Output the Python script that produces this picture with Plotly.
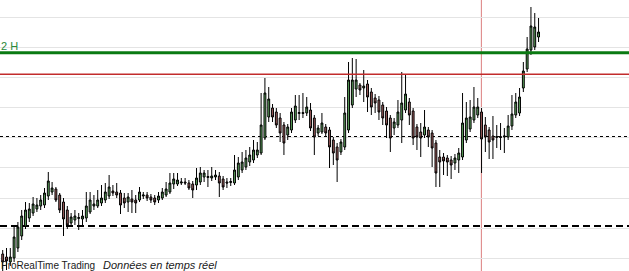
import plotly.graph_objects as go

open_ = [4073, 4071.5, 4069, 4071, 4076, 4082, 4087, 4091, 4093.5, 4095.5,
         4097, 4097.5, 4102, 4104, 4105.5, 4102.5, 4099, 4095, 4088.5, 4090,
         4090.75, 4090.5, 4091, 4094, 4097, 4097, 4098.5, 4100, 4102, 4104.5,
         4104, 4103.5, 4101, 4099, 4100.5, 4100, 4100, 4102, 4102.5, 4101.5,
         4101, 4100, 4101, 4102.5, 4104, 4108, 4108, 4108.5, 4109, 4108.5,
         4108, 4107.5, 4109, 4111.5, 4111.25, 4111, 4111.5, 4112, 4110.5, 4109,
         4108.75, 4108.5, 4111.5, 4115, 4116.5, 4119, 4120, 4122.5, 4123.5, 4131,
         4141.5, 4146, 4144, 4141, 4137.5, 4132.5, 4135, 4140, 4143.25, 4143.75,
         4143.5, 4145, 4141, 4133.5, 4134, 4136.5, 4135, 4130, 4126.5, 4124,
         4126.5, 4135, 4147.5, 4155.5, 4157.5, 4156, 4158, 4154, 4151, 4150,
         4147.5, 4144.5, 4141, 4136, 4137.5, 4140, 4145, 4149, 4144.5, 4136.5,
         4134, 4132.5, 4135, 4133.5, 4128.5, 4121.5, 4121.5, 4121, 4120, 4118.5,
         4120, 4121.5, 4130, 4135.5, 4140, 4142.5, 4144, 4137.5, 4135, 4132,
         4131.25, 4131.75, 4131.5, 4131.5, 4137, 4142.5, 4143.5, 4156, 4165.5, 4175,
         4176.5, 4181.5]
close = [4069, 4069.5, 4071.5, 4081.5, 4086.5, 4092, 4095, 4095.5, 4098, 4097.5,
         4100, 4103.5, 4109.5, 4106, 4100, 4095, 4090.5, 4087.5, 4091.5, 4092,
         4091.25, 4092, 4097, 4100, 4098, 4100, 4101, 4104, 4106.5, 4103.5,
         4102.5, 4097.5, 4098.5, 4101.5, 4099, 4098.5, 4104, 4102.5, 4101, 4100,
         4099, 4102, 4104, 4105.5, 4108.5, 4110.5, 4110, 4109, 4108.5, 4106,
         4105, 4111, 4113.5, 4113.5, 4111.75, 4112, 4112.5, 4108.5, 4106.5, 4108.5,
         4109.25, 4115, 4118.5, 4119, 4121, 4122.5, 4125, 4125, 4137.5, 4153.5,
         4150.5, 4141.5, 4137.5, 4133.5, 4128.5, 4136.5, 4144, 4147, 4143.75, 4143.25,
         4146.5, 4136, 4131.5, 4136, 4138.5, 4133.5, 4126.5, 4123.5, 4120, 4129,
         4143.5, 4160, 4160, 4160, 4155, 4157, 4151.5, 4146.5, 4148.5, 4144,
         4141, 4137.5, 4131, 4139, 4144, 4148.5, 4153, 4142.5, 4131, 4131.5,
         4131, 4136.5, 4131.5, 4126, 4113.5, 4119, 4119.5, 4119, 4117.5, 4121,
         4123.5, 4138.5, 4141, 4141.5, 4146.5, 4146.5, 4130.5, 4131.5, 4129, 4130,
         4131.75, 4131.25, 4132, 4137, 4143, 4149, 4151.5, 4164.5, 4175.5, 4187,
         4186.5, 4184]
high = [4075, 4076, 4076, 4086.5, 4089, 4095, 4099, 4098.5, 4101.5, 4101,
        4102.5, 4106, 4114, 4109, 4106.5, 4103.5, 4101, 4097, 4093.5, 4095,
        4093.5, 4095, 4104, 4104, 4102.5, 4105, 4107.5, 4108.5, 4112.5, 4107.5,
        4108.5, 4105, 4103.5, 4103.5, 4105, 4102.5, 4106.5, 4104, 4104, 4103,
        4102.5, 4104, 4106, 4109, 4113.5, 4113.5, 4113.5, 4111, 4111, 4110,
        4109.5, 4116, 4116.5, 4115, 4115, 4116.5, 4115, 4114, 4112, 4111,
        4111, 4122.5, 4121.5, 4124, 4125, 4126.5, 4130, 4129, 4153.5, 4161,
        4156.5, 4148, 4146, 4143.5, 4139, 4138, 4146, 4152.5, 4152.5, 4153.5,
        4151.5, 4148.5, 4142.5, 4137.5, 4143.5, 4138, 4136.5, 4131.5, 4128.5, 4130.5,
        4151.5, 4169, 4171, 4170.5, 4158.5, 4165, 4160, 4156, 4153, 4152,
        4149, 4146.5, 4142.5, 4141, 4150, 4164, 4162.5, 4151, 4146, 4138,
        4138.5, 4145, 4136.5, 4135, 4130, 4125, 4123.5, 4122.5, 4122, 4123,
        4126, 4153.5, 4149, 4150, 4156.5, 4151, 4146, 4141.5, 4136.5, 4142,
        4137.5, 4138.5, 4136, 4142.5, 4152.5, 4153.5, 4156, 4169, 4181.5, 4196.5,
        4193.5, 4191]
low = [4064, 4065, 4067, 4069, 4074, 4080, 4085.5, 4089, 4092, 4094,
       4095, 4096, 4100, 4102.5, 4099, 4093.5, 4082, 4085.5, 4087, 4087.5,
       4085, 4087.5, 4089, 4093, 4095, 4096, 4097, 4098.5, 4100.5, 4102,
       4101, 4093, 4096, 4094, 4093.5, 4093.5, 4099, 4100.5, 4099.5, 4098.5,
       4097.5, 4098.5, 4100, 4101.5, 4103, 4105.5, 4107, 4107.5, 4107.5, 4105,
       4101, 4105, 4107.5, 4109, 4106.5, 4109.5, 4110, 4101.5, 4105, 4106,
       4107, 4107.5, 4110, 4113.5, 4115, 4117, 4118.5, 4121, 4122.5, 4130,
       4139, 4139, 4136, 4129, 4122.5, 4130, 4133.5, 4138.5, 4140, 4141,
       4142, 4134.5, 4122.5, 4132, 4133, 4132, 4116, 4117.5, 4109, 4122.5,
       4125, 4133.5, 4146, 4151.5, 4152.5, 4149, 4144, 4142.5, 4143.5, 4140,
       4137.5, 4131, 4124, 4132.5, 4136, 4128.5, 4143.5, 4137.5, 4127.5, 4125,
       4121.5, 4131, 4126.5, 4116.5, 4106.5, 4106.5, 4112.5, 4112, 4110.5, 4115,
       4113.5, 4120, 4128.5, 4134, 4138.5, 4141, 4113.5, 4124, 4120.5, 4120.5,
       4126, 4125, 4123.5, 4130, 4135, 4141, 4142, 4154, 4164, 4172.5,
       4175, 4179]
bars = list(range(len(open_)))

level_green = 4173.65
level_red = 4162.85
level_dash = 4131.75
level_dash_thick = 4087.0
cursor_bar = 125.95

fig = go.Figure()
fig.add_trace(go.Candlestick(
    x=bars, open=open_, high=high, low=low, close=close,
    increasing=dict(fillcolor="#5ea85e", line=dict(color="#000000", width=1)),
    decreasing=dict(fillcolor="#a45f5f", line=dict(color="#000000", width=1)),
    whiskerwidth=0, showlegend=False, hoverinfo="skip"))

shapes = [
    dict(type="line", xref="x", yref="paper", x0=cursor_bar, x1=cursor_bar, y0=0, y1=1,
         line=dict(color="#dc7f7f", width=1), layer="between"),
    dict(type="line", xref="paper", yref="y", x0=0, x1=1, y0=level_dash, y1=level_dash,
         line=dict(color="#000000", width=1, dash="3px,3px"), layer="between"),
    dict(type="line", xref="paper", yref="y", x0=0, x1=1, y0=level_dash_thick, y1=level_dash_thick,
         line=dict(color="#000000", width=2, dash="7px,4px"), layer="between"),
    dict(type="line", xref="paper", yref="y", x0=0, x1=1, y0=level_red, y1=level_red,
         line=dict(color="#c22c2c", width=1.5), layer="above"),
    dict(type="line", xref="paper", yref="y", x0=0, x1=1, y0=level_green, y1=level_green,
         line=dict(color="#0a7a12", width=3), layer="above"),
]

annotations = [
    dict(text="2 H", xref="paper", yref="y", x=0, y=4177, xanchor="left", yanchor="middle",
         showarrow=False, font=dict(family="Liberation Sans", size=11, color="#2a8a3a"), xshift=-1),
    dict(text="ProRealTime Trading", xref="paper", yref="paper", x=0, y=0,
         xanchor="left", yanchor="bottom", showarrow=False, xshift=-1, yshift=-2,
         font=dict(family="Liberation Sans", size=10, color="#1a1a1a")),
    dict(text="<i>Données en temps réel</i>", xref="paper", yref="paper", x=101/629, y=0,
         xanchor="left", yanchor="bottom", showarrow=False, yshift=-2,
         font=dict(family="Liberation Sans", size=11, color="#1a1a1a")),
]

fig.update_layout(
    width=629, height=271, margin=dict(l=0, r=0, t=0, b=0),
    paper_bgcolor="white", plot_bgcolor="white",
    shapes=shapes, annotations=annotations,
    xaxis=dict(range=[-0.71, 164.8], showgrid=False, zeroline=False, showticklabels=False,
               showline=False, ticks="", rangeslider=dict(visible=False), fixedrange=True),
    yaxis=dict(range=[4064.5, 4200], showgrid=True, gridcolor="#e4e4e4", gridwidth=1,
               tickmode="linear", tick0=4191.5, dtick=15.085, zeroline=False,
               showticklabels=False, showline=False, ticks="", fixedrange=True),
)

fig.write_html("out.html", config={"displayModeBar": False})
